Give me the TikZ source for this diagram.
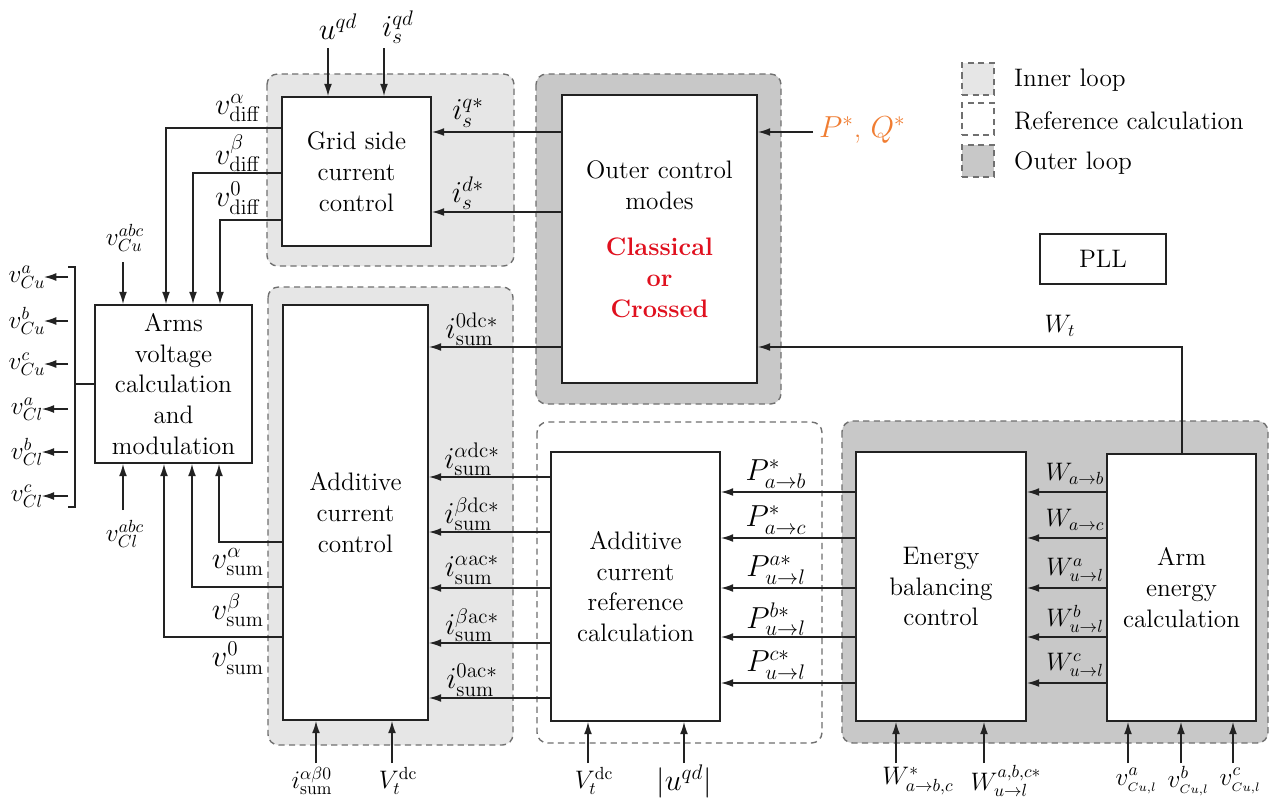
\documentclass[tikz,border=0pt]{standalone}
\usetikzlibrary{arrows.meta}
\definecolor{innerfill}{HTML}{E6E6E6}
\definecolor{outerfill}{HTML}{C8C8C8}
\definecolor{dashcol}{HTML}{707070}
\definecolor{redtxt}{HTML}{E0101E}
\definecolor{orangetxt}{HTML}{F07D32}
\definecolor{linecol}{HTML}{222222}
\newcommand{\redb}[1]{\textcolor{redtxt}{\bfseries #1}}
\begin{document}
\begin{tikzpicture}[x=0.02cm,y=-0.02cm,
  every node/.style={font=\fontsize{14.4}{17.5}\selectfont, text=black},
  big/.style={font=\fontsize{17.28}{20}\selectfont},
  lab/.style={inner sep=1pt},
  blk/.style 2 args={draw=linecol, line width=1pt, fill=white, minimum width=#1*0.02cm, minimum height=#2*0.02cm, align=center, inner sep=0pt},
  reg/.style={draw=dashcol, line width=0.8pt, dash pattern=on 3.5pt off 2.5pt, rounded corners=6pt},
  inreg/.style={reg, fill=innerfill},
  outreg/.style={reg, fill=outerfill},
  refreg/.style={reg, fill=white},
  legsq/.style={draw=dashcol, line width=0.8pt, dash pattern=on 3.5pt off 2.5pt, minimum width=32*0.02cm, minimum height=32*0.02cm, inner sep=0pt},
  ln/.style={draw=linecol, line width=0.8pt},
  arr/.style={ln, -{Latex[length=7pt,width=4.5pt]}},
  brk/.style={draw=linecol, line width=1.5pt}
]
\useasboundingbox (0,0) rectangle (1280,802);
\fill[white] (0,0) rectangle (1280,802);

% ---- regions
\path[inreg] (267,74) rectangle (514,266);
\path[outreg] (536,74) rectangle (781,404);
\path[inreg] (268,287) rectangle (513,745);
\path[refreg] (537,422) rectangle (822,743);
\path[outreg] (842,421) rectangle (1268,743);

% ---- legend
\node[legsq, fill=innerfill] (lg1) at (978,79) {};
\node[legsq, fill=white] (lg2) at (978,119) {};
\node[legsq, fill=outerfill] (lg3) at (978,161) {};
\node[anchor=west] (lt1) at (1008,80) {Inner loop};
\node[anchor=west] (lt2) at (1008,121) {Reference calculation};
\node[anchor=west] (lt3) at (1008,163) {Outer loop};

% ---- blocks
\node[blk={149}{149}] (grid) at (356.5,171.5) {Grid side\\current\\control};
\node[blk={195}{288}] (outer) at (659.5,239) {Outer control\\modes\\[9pt]\redb{Classical}\\\redb{or}\\\redb{Crossed}};
\node[blk={157}{158}] (arms) at (173.5,384) {Arms\\voltage\\calculation\\and\\modulation};
\node[blk={145}{415}] (addc) at (355.5,512.5) {Additive\\current\\control};
\node[blk={169}{269}] (ref) at (635.5,586.5) {Additive\\current\\reference\\calculation};
\node[blk={170}{269}] (ebal) at (941,586.5) {Energy\\balancing\\control};
\node[blk={149}{267}] (arme) at (1181.5,587.5) {Arm\\energy\\calculation};
\node[blk={126}{50}] (pll) at (1103,259) {PLL};

% ---- top inputs to grid control
\node[big, lab] (uqd) at (338,27) {$u^{qd}$};
\node[big, lab] (isqd) at (398,27) {$i_s^{qd}$};
\coordinate (tu) at (328,48);
\coordinate (ti) at (384,48);
\draw[arr] (tu) -- (tu |- grid.north);
\draw[arr] (ti) -- (ti |- grid.north);

% ---- outer -> grid
\coordinate (yq) at (0,132);
\coordinate (yd) at (0,212);
\draw[arr] (outer.west |- yq) -- (grid.east |- yq);
\draw[arr] (outer.west |- yd) -- (grid.east |- yd);
\node[big, lab] (lisq) at (468,113) {$i_s^{q*}$};
\node[big, lab] (lisd) at (468,193) {$i_s^{d*}$};

% ---- outer -> additive current control
\coordinate (y0dc) at (0,347);
\draw[arr] (outer.west |- y0dc) -- (addc.east |- y0dc);
\node[big, lab] (li0dc) at (472,329) {$i_{\mathrm{sum}}^{0\mathrm{dc}*}$};

% ---- P*, Q*
\node[big, lab, text=orangetxt, anchor=west] (pq) at (817,130) {$P^*$, $Q^*$};
\coordinate (pqt) at (813,132);
\draw[arr] (pqt) -- (outer.east |- pqt);

% ---- W_t from arm energy calculation
\coordinate (wt) at (1182,347);
\draw[arr] (arme.north -| wt) |- (outer.east |- wt);
\node[lab] (lwt) at (1060,326) {$W_t$};

% ---- grid -> arms (v_diff)
\coordinate (da) at (166,128);
\coordinate (db) at (193,173);
\coordinate (d0) at (220,220);
\draw[arr] (grid.west |- da) -| (arms.north -| da);
\draw[arr] (grid.west |- db) -| (arms.north -| db);
\draw[arr] (grid.west |- d0) -| (arms.north -| d0);
\node[big, lab] (lda) at (238,108) {$v_{\mathrm{diff}}^{\alpha}$};
\node[big, lab] (ldb) at (238,153) {$v_{\mathrm{diff}}^{\beta}$};
\node[big, lab] (ld0) at (238,198) {$v_{\mathrm{diff}}^{0}$};

% ---- additive current control -> arms (v_sum)
\coordinate (sa) at (219,542);
\coordinate (sb) at (192,587);
\coordinate (s0) at (164,637);
\draw[arr] (addc.west |- sa) -| (arms.south -| sa);
\draw[arr] (addc.west |- sb) -| (arms.south -| sb);
\draw[arr] (addc.west |- s0) -| (arms.south -| s0);
\node[big, lab] (lsa) at (238,562) {$v_{\mathrm{sum}}^{\alpha}$};
\node[big, lab] (lsb) at (238,610) {$v_{\mathrm{sum}}^{\beta}$};
\node[big, lab] (ls0) at (238,658) {$v_{\mathrm{sum}}^{0}$};

% ---- v_Cu^abc, v_Cl^abc
\node[lab] (vcu) at (125,238) {$v_{Cu}^{abc}$};
\coordinate (tcu) at (123,262);
\draw[arr] (tcu) -- (tcu |- arms.north);
\node[lab] (vcl) at (125,534) {$v_{Cl}^{abc}$};
\coordinate (tcl) at (123,510);
\draw[arr] (tcl) -- (tcl |- arms.south);

% ---- outputs of arms block
\coordinate (bt) at (68,267);
\coordinate (bb) at (68,507);
\draw[brk] (bt) -- ++(7,0) |- (bb);
\draw[ln] (arms.west) -- ++(-20,0);
\foreach \y/\s/\t [count=\i] in {277/Cu/a, 321/Cu/b, 364/Cu/c, 409/Cl/a, 452/Cl/b, 496/Cl/c} {
  \coordinate (o\i) at (68,\y);
  \node[lab] (ol\i) at (27,\y) {$v_{\s}^{\t}$};
  \draw[arr] (o\i) -- ([xshift=-2pt]o\i -| ol\i.east);
}

% ---- reference calculation -> additive current control
\foreach \y/\t [count=\i] in {477/\alpha\mathrm{dc}*, 532/\beta\mathrm{dc}*, 588/\alpha\mathrm{ac}*, 643/\beta\mathrm{ac}*, 698/0\mathrm{ac}*} {
  \coordinate (r\i) at (0,\y);
  \draw[arr] (ref.west |- r\i) -- (addc.east |- r\i);
  \node[big, lab] (lr\i) at (472,\y-18) {$i_{\mathrm{sum}}^{\t}$};
}

% ---- energy balancing -> reference calculation
\foreach \y/\t [count=\i] in {492/{P^*_{a\to b}}, 538/{P^*_{a\to c}}, 588/{P^{a*}_{u\to l}}, 637/{P^{b*}_{u\to l}}, 683/{P^{c*}_{u\to l}}} {
  \coordinate (p\i) at (0,\y);
  \draw[arr] (ebal.west |- p\i) -- (ref.east |- p\i);
  \node[big, lab] (lp\i) at (776,\y-18) {$\t$};
}

% ---- arm energy -> energy balancing
\foreach \y/\t [count=\i] in {492/{W_{a\to b}}, 538/{W_{a\to c}}, 588/{W^{a}_{u\to l}}, 637/{W^{b}_{u\to l}}, 683/{W^{c}_{u\to l}}} {
  \coordinate (w\i) at (0,\y);
  \draw[arr] (arme.west |- w\i) -- (ebal.east |- w\i);
  \node[lab] (lw\i) at (1075,\y-18) {$\t$};
}

% ---- bottom inputs
\foreach \x/\lx/\t/\b [count=\i] in {316/312/{i_{\mathrm{sum}}^{\alpha\beta 0}}/addc, 392/398/{V_t^{\mathrm{dc}}}/addc, 588/594/{V_t^{\mathrm{dc}}}/ref, 896/918/{W^*_{a\to b,c}}/ebal, 984/1006/{W^{a,b,c*}_{u\to l}}/ebal, 1128/1136/{v_{\scriptscriptstyle Cu,l}^{a}}/arme, 1181/1188/{v_{\scriptscriptstyle Cu,l}^{b}}/arme, 1233/1240/{v_{\scriptscriptstyle Cu,l}^{c}}/arme} {
  \node[lab] (lb\i) at (\lx,781) {$\t$};
  \coordinate (bi\i) at (\x,763);
  \draw[arr] (bi\i) -- (bi\i |- \b.south);
}
\node[big, lab] (luqd) at (684,781) {$|u^{qd}|$};
\coordinate (biu) at (684,763);
\draw[arr] (biu) -- (biu |- ref.south);
\end{tikzpicture}
\end{document}
